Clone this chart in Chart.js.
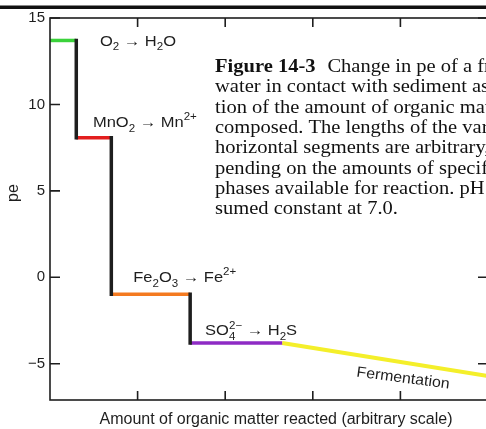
<!DOCTYPE html>
<html>
<head>
<meta charset="utf-8">
<script src="https://cdn.jsdelivr.net/npm/chart.js@4"></script>
<style>
  html, body { margin: 0; padding: 0; background: #fff; overflow: hidden; }
  #wrap { width: 490px; height: 429px; }
</style>
</head>
<body>
<div id="wrap"><canvas id="peChart" width="490" height="429"></canvas></div>
<script>
// step edges along the x axis (arbitrary scale)
const stepX = [0, 0.30, 0.70, 1.60, 2.65];
// pe plateau of each redox step
const stepPe = [13.7, 8.07, -0.98, -3.8];
const stepColors = ['#3bd23b', '#e31e1e', '#f47a20', '#8e2bc4'];
// fermentation line
const fermX = [2.65, 5.0];
const fermPe = [-3.8, -5.72];
const fermColor = '#f4ef2a';
// axis ticks
const yTicks = [-5, 0, 5, 10, 15];
const xTicks = [1, 2, 3, 4];

// reaction labels, anchored in data units (left edge, baseline)
const reactionLabels = [
  { x: 0.57, y: 13.4, parts: [['O'], ['2', 'sub'], [' \u2192 H'], ['2', 'sub'], ['O']] },
  { x: 0.49, y: 8.69, parts: [['MnO'], ['2', 'sub'], [' \u2192 Mn'], ['2+', 'sup']] },
  { x: 0.95, y: -0.29, parts: [['Fe'], ['2', 'sub'], ['O'], ['3', 'sub'], [' \u2192 Fe'], ['2+', 'sup']] },
  { x: 1.77, y: -3.36, parts: [['SO'], ['4', 'sub', '2\u2212'], [' \u2192 H'], ['2', 'sub'], ['S']] }
];

const caption = [
  [['Figure 14-3', true], ['Change in pe of a fresh-', false]],
  [['water in contact with sediment as a func-', false]],
  [['tion of the amount of organic matter de-', false]],
  [['composed. The lengths of the various', false]],
  [['horizontal segments are arbitrary, de-', false]],
  [['pending on the amounts of specific', false]],
  [['phases available for reaction. pH is as-', false]],
  [['sumed constant at 7.0.', false]]
];

const sans = '"Liberation Sans", Arial, sans-serif';
const serif = '"Liberation Serif", "Times New Roman", serif';
const ink = '#1e1e1e';

const datasets = [];
for (let i = 0; i < stepPe.length; i++) {
  datasets.push({
    data: [{ x: stepX[i], y: stepPe[i] }, { x: stepX[i + 1], y: stepPe[i] }],
    borderColor: stepColors[i], borderWidth: 3.5, order: 2
  });
  if (i < stepPe.length - 1) {
    datasets.push({
      data: [{ x: stepX[i + 1], y: stepPe[i] }, { x: stepX[i + 1], y: stepPe[i + 1] }],
      borderColor: ink, borderWidth: 3.5, borderCapStyle: 'square', order: 1
    });
  }
}
datasets.push({
  data: fermX.map((x, i) => ({ x: x, y: fermPe[i] })),
  borderColor: fermColor, borderWidth: 4, order: 2
});

function drawRich(ctx, x, y, parts, size) {
  ctx.save();
  ctx.translate(x, y);
  ctx.scale(1.1, 1);
  ctx.textBaseline = 'alphabetic';
  ctx.textAlign = 'left';
  let cx = 0;
  for (const p of parts) {
    if (p[1] === 'sub') {
      ctx.font = (size * 0.7) + 'px ' + sans;
      ctx.fillText(p[0], cx, size * 0.3);
      let w = ctx.measureText(p[0]).width;
      if (p[2]) {
        ctx.fillText(p[2], cx, -size * 0.45);
        w = Math.max(w, ctx.measureText(p[2]).width);
      }
      cx += w;
    } else if (p[1] === 'sup') {
      ctx.font = (size * 0.7) + 'px ' + sans;
      ctx.fillText(p[0], cx, -size * 0.5);
      cx += ctx.measureText(p[0]).width;
    } else {
      ctx.font = size + 'px ' + sans;
      ctx.fillText(p[0], cx, 0);
      cx += ctx.measureText(p[0]).width;
    }
  }
  ctx.restore();
}

const decor = {
  id: 'decor',
  beforeDraw(chart) {
    const ctx = chart.ctx;
    ctx.save();
    ctx.fillStyle = '#fff';
    ctx.fillRect(0, 0, chart.width, chart.height);
    ctx.fillStyle = '#111';
    ctx.fillRect(0, 5.5, chart.width, 3.5);
    ctx.restore();
  },
  afterDatasetsDraw(chart) {
    const ctx = chart.ctx;
    const a = chart.chartArea;
    const xs = chart.scales.x, ys = chart.scales.y;
    ctx.save();
    // frame
    ctx.strokeStyle = ink;
    ctx.lineWidth = 1.6;
    ctx.strokeRect(a.left, a.top, a.right - a.left, a.bottom - a.top);
    // inward ticks
    ctx.beginPath();
    yTicks.forEach(v => {
      const py = ys.getPixelForValue(v);
      ctx.moveTo(a.left, py); ctx.lineTo(a.left + 10, py);
      ctx.moveTo(a.right, py); ctx.lineTo(a.right - 10, py);
    });
    xTicks.forEach(v => {
      const px = xs.getPixelForValue(v);
      ctx.moveTo(px, a.bottom); ctx.lineTo(px, a.bottom - 9);
      ctx.moveTo(px, a.top); ctx.lineTo(px, a.top + 9);
    });
    ctx.stroke();
    // reaction labels
    ctx.fillStyle = ink;
    reactionLabels.forEach(l => {
      drawRich(ctx, xs.getPixelForValue(l.x), ys.getPixelForValue(l.y), l.parts, 15);
    });
    // fermentation label along the line
    const fx = xs.getPixelForValue(4.03), fy = ys.getPixelForValue(-5.85);
    ctx.save();
    ctx.translate(fx, fy);
    ctx.rotate(7.5 * Math.PI / 180);
    ctx.scale(1.06, 1);
    ctx.font = '15px ' + sans;
    ctx.textAlign = 'center';
    ctx.textBaseline = 'middle';
    ctx.fillText('Fermentation', 0, 0);
    ctx.restore();
    // axis titles
    ctx.font = '16px ' + sans;
    ctx.textAlign = 'center';
    ctx.textBaseline = 'middle';
    ctx.fillText('Amount of organic matter reacted (arbitrary scale)', 276, 420);
    ctx.save();
    ctx.translate(14, 193);
    ctx.rotate(-Math.PI / 2);
    ctx.fillText('pe', 0, 0);
    ctx.restore();
    // caption, on a white patch that hides the right-hand ticks behind it
    ctx.fillStyle = '#fff';
    ctx.fillRect(208, 50, chart.width - 208, 172);
    ctx.textAlign = 'left';
    ctx.textBaseline = 'alphabetic';
    ctx.fillStyle = '#111';
    caption.forEach((line, i) => {
      const y = 72 + i * 20.3;
      ctx.save();
      ctx.translate(215, y);
      ctx.scale(1.08, 1);
      let x = 0;
      line.forEach(([t, bold]) => {
        ctx.font = (bold ? 'bold ' : '') + '19px ' + serif;
        ctx.fillText(t, x, 0);
        x += ctx.measureText(t).width + (bold ? 11 : 0);
      });
      ctx.restore();
    });
    ctx.restore();
  }
};

new Chart(document.getElementById('peChart'), {
  type: 'line',
  data: { datasets: datasets },
  options: {
    responsive: false,
    animation: false,
    elements: { point: { radius: 0 }, line: { tension: 0 } },
    layout: { padding: { top: 18, right: 2, left: 0, bottom: 0 } },
    plugins: { legend: { display: false }, tooltip: { enabled: false } },
    scales: {
      x: {
        type: 'linear', min: 0, max: 5,
        afterBuildTicks: s => { s.ticks = xTicks.map(v => ({ value: v })); },
        ticks: { display: false },
        grid: { display: false, drawTicks: false },
        border: { display: false },
        afterFit: s => { s.height = 29; }
      },
      y: {
        min: -7.1, max: 15,
        afterBuildTicks: s => { s.ticks = yTicks.map(v => ({ value: v })); },
        ticks: {
          callback: v => (v < 0 ? '\u2212' + Math.abs(v) : String(v)),
          font: { size: 15, family: sans }, color: ink, padding: 5
        },
        grid: { display: false, drawTicks: false },
        border: { display: false },
        afterFit: s => { s.width = 50; }
      }
    }
  },
  plugins: [decor]
});
</script>
</body>
</html>
